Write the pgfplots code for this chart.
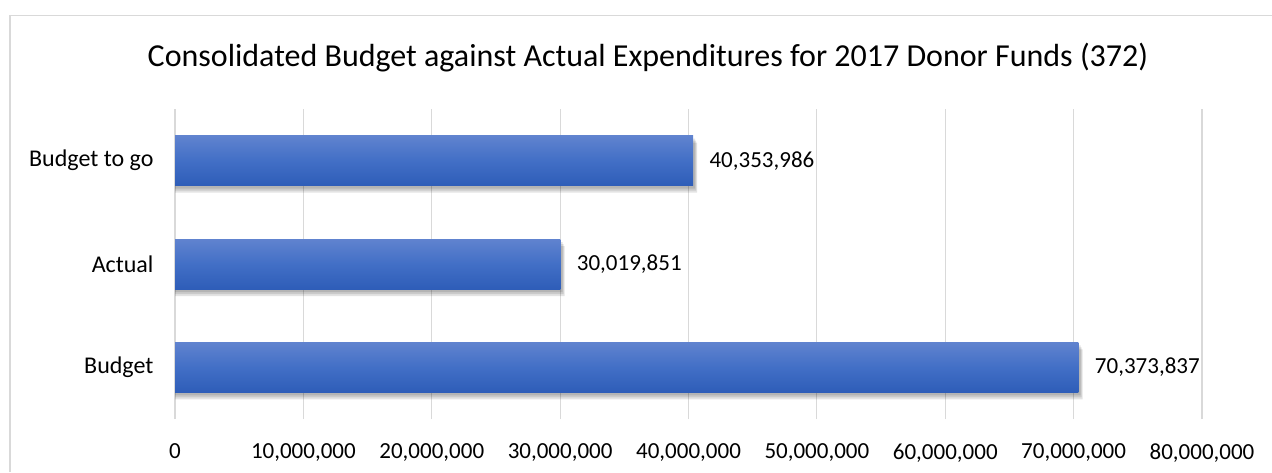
\documentclass[border=0pt]{standalone}
\usepackage{pgfplots}
\pgfplotsset{compat=1.18}
\usepackage{fontspec}
\setmainfont{Carlito}
\definecolor{gridc}{RGB}{217,217,217}
\definecolor{bartop}{RGB}{96,131,207}
\definecolor{barmid}{RGB}{66,111,198}
\definecolor{barbot}{RGB}{46,93,184}
\pgfplotsset{
  shad/.style={draw=none, fill=black, fill opacity=0.11, forget plot},
  barstyle/.style={draw=none, bar shift=0pt, top color=bartop, bottom color=barbot, middle color=barmid,
    point meta=explicit symbolic, nodes near coords,
    nodes near coords style={font=\fontsize{23}{26}\selectfont, black, anchor=west, xshift=13pt}},
}
\begin{document}
\begin{tikzpicture}
\path[use as bounding box] (0pt,0pt) rectangle (1272pt,472pt);
\draw[gridc, line width=1.2pt] (10pt,0pt) -- (10pt,456.5pt) -- (1272pt,456.5pt);
\node[font=\fontsize{32}{36}\selectfont] at (648pt,414pt) {Consolidated Budget against Actual Expenditures for 2017 Donor Funds (372)};
\begin{axis}[
  at={(175pt,53pt)}, anchor=south west,
  scale only axis, width=1027pt, height=310pt,
  xbar, bar width=50pt,
  xmin=0, xmax=80, ymin=-0.5, ymax=2.5,
  ytick={0,1,2}, yticklabels={Budget,Actual,Budget to go},
  xtick={0,10,20,30,40,50,60,70,80},
  xticklabels={0,{10,000,000},{20,000,000},{30,000,000},{40,000,000},{50,000,000},{60,000,000},{70,000,000},{80,000,000}},
  xmajorgrids, major grid style={gridc, line width=1.2pt},
  axis line style={draw=none}, major tick length=0pt,
  xticklabel style={font=\fontsize{23}{26}\selectfont, yshift=-21pt},
  yticklabel style={font=\fontsize{24}{27}\selectfont, xshift=-18pt},
]
\addplot[shad, bar shift=-7pt] coordinates {(70.70,0) (30.35,1) (40.68,2)};
\addplot[shad, bar shift=-5pt] coordinates {(70.62,0) (30.27,1) (40.60,2)};
\addplot[shad, bar shift=-3pt] coordinates {(70.54,0) (30.19,1) (40.52,2)};
\addplot[barstyle] coordinates {(70.373837,0) [70,373,837]};
\addplot[barstyle] coordinates {(30.019851,1) [30,019,851]};
\addplot[barstyle] coordinates {(40.353986,2) [40,353,986]};
\end{axis}
\end{tikzpicture}
\end{document}
